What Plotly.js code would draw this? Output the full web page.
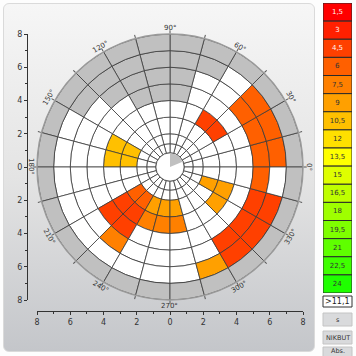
<!DOCTYPE html>
<html><head><meta charset="utf-8">
<script src="https://cdn.plot.ly/plotly-3.0.1.min.js"></script>
<style>
html,body{margin:0;padding:0;background:#fdfdfd;}
#wrap{position:relative;width:356px;height:356px;overflow:hidden;}
#panel{position:absolute;left:3px;top:3px;width:312px;height:349px;border-radius:6px;
 background:linear-gradient(#f6f6f6,#e4e4e4 50%,#c4c6ca);border:1px solid #dadada;box-sizing:border-box;}
#chart{position:absolute;left:0;top:0;width:356px;height:356px;}
</style></head>
<body><div id="wrap"><div id="panel"></div><div id="chart"></div></div>
<script>
// ---- data ----
const sectorCenters = [7.5,22.5,37.5,52.5,67.5,82.5,97.5,112.5,127.5,142.5,157.5,172.5,
                       187.5,202.5,217.5,232.5,247.5,262.5,277.5,292.5,307.5,322.5,337.5,352.5];
const ringEdges = [0.85,1.4,2,3,4,5,6,7,8];
// level per sector: 0 = empty (white), -1 = grey, n = legend class n
const ring0 = [0,0,0,0,0,0,0,0,0,0,0,0,0,0,0,0,0,0,0,0,0,0,0,0];
const ring1 = [0,0,0,0,0,0,0,0,0,0,0,0,0,0,0,0,0,0,0,0,0,0,0,0];
const ring2 = [0,0,0,0,0,0,0,0,0,0,7,7,0,0,4,4,6,6,6,0,0,0,6,0];
const ring3 = [0,0,3,3,0,0,0,0,0,0,7,7,0,0,3,3,5,5,5,0,0,6,6,0];
const ring4 = [0,0,0,0,0,-1,-1,-1,0,0,0,0,0,0,3,3,0,0,0,0,0,0,0,0];
const ring5 = [4,4,4,0,0,-1,-1,-1,-1,0,0,0,0,0,0,5,0,0,0,0,3,3,3,4];
const ring6 = [4,4,4,0,-1,-1,-1,-1,-1,-1,0,0,0,0,0,0,0,0,0,6,3,3,3,0];
const ring7 = [-1,-1,-1,-1,-1,-1,-1,-1,-1,-1,-1,-1,-1,-1,-1,-1,-1,-1,-1,-1,-1,-1,-1,-1];
const rings = [ring0,ring1,ring2,ring3,ring4,ring5,ring6,ring7];
const centerWedge = {from:22.5, to:90};
const angleLabels = ['0°','30°','60°','90°','120°','150°','180°','210°','240°','270°','300°','330°'];
const angleTicks = [0,30,60,90,120,150,180,210,240,270,300,330];
const legendLabels = ['1,5','3','4,5','6','7,5','9','10,5','12','13,5','15','16,5','18','19,5','21','22,5','24'];
const legendColors = ['#FF0000','#FF2000','#FF4000','#FF6000','#FF8000','#FFA000','#FFC000','#FFE000',
                      '#FFFF00','#DFFF00','#BFFF00','#9FFF00','#7FFF00','#5FFF00','#3FFF00','#1FFF00'];
const axisTicks = [-8,-6,-4,-2,0,2,4,6,8];
const axisTickText = ['8','6','4','2','0','2','4','6','8'];
const buttons = ['s','NIKBUT','Abs.'];
const thresholdText = '>11,1';

// ---- build ----
const W=356,H=356;
const px=x=>x/W, py=y=>1-y/H;
const GREY='#C0C0C0', LINE='#3c3c3c';
const cr=[],cb=[],ct=[],cc=[];
rings.forEach((ring,i)=>{
  ring.forEach((lv,k)=>{
    cr.push(ringEdges[i+1]-ringEdges[i]); cb.push(ringEdges[i]); ct.push(sectorCenters[k]);
    cc.push(lv===0?'#FFFFFF':(lv<0?GREY:legendColors[lv-1]));
  });
});
const traces=[
 {type:'barpolar',r:cr,base:cb,theta:ct,width:sectorCenters.map(()=>15),
  marker:{color:cc,line:{color:LINE,width:0.8}},hoverinfo:'skip',showlegend:false},
 {type:'barpolar',r:[ringEdges[0]],base:[0],theta:[180],width:[360],
  marker:{color:'#FFFFFF',line:{color:LINE,width:0.8}},hoverinfo:'skip',showlegend:false},
 {type:'barpolar',r:[ringEdges[0]*0.96],base:[0],theta:[(centerWedge.from+centerWedge.to)/2],
  width:[centerWedge.to-centerWedge.from],
  marker:{color:GREY,line:{width:0}},hoverinfo:'skip',showlegend:false},
 {type:'bar',x:legendLabels.map(()=>0),y:legendLabels.map(()=>1),base:legendLabels.map((_,i)=>i),
  width:1,xaxis:'x2',yaxis:'y2',text:legendLabels,textposition:'inside',insidetextanchor:'middle',
  textangle:0,constraintext:'none',
  textfont:{size:7,family:'DejaVu Sans',color:legendLabels.map((_,i)=>i<3?'#fff4f0':'#333')},
  marker:{color:legendColors,line:{color:'#2a2a2a',width:1}},hoverinfo:'skip',showlegend:false},
 {type:'scatter',x:[0],y:[0],mode:'markers',marker:{opacity:0},hoverinfo:'skip',showlegend:false}
];
const pd={x:[37,303],y:[34,300]};
const cxp=px((pd.x[0]+pd.x[1])/2), cyp=py((pd.y[0]+pd.y[1])/2);
const Rpx=(pd.x[1]-pd.x[0])/2, Lr=Rpx+6;
const ann=angleTicks.map((a,i)=>{
  const t=a*Math.PI/180;
  let ta=90-a; while(ta>90) ta-=180; while(ta<=-90) ta+=180;
  return {xref:'paper',yref:'paper',x:cxp+Lr*Math.cos(t)/W,y:cyp+Lr*Math.sin(t)/H,
    text:angleLabels[i],showarrow:false,textangle:ta,xanchor:'center',yanchor:'middle',
    font:{size:7,color:'#333',family:'DejaVu Sans'}};
});
const shapes=[];
shapes.push({type:'rect',xref:'paper',yref:'paper',x0:px(323),x1:px(352),y0:py(307),y1:py(296),
  fillcolor:'#ffffff',line:{color:'#333',width:1}});
ann.push({xref:'paper',yref:'paper',x:px(337.5),y:py(301.8),text:thresholdText,showarrow:false,
  xanchor:'center',yanchor:'middle',font:{size:8,color:'#222',family:'DejaVu Sans'}});
const btnY=[[313,326],[331,344],[347,360]];
buttons.forEach((b,i)=>{
  shapes.push({type:'rect',xref:'paper',yref:'paper',x0:px(323),x1:px(352),y0:py(btnY[i][1]),y1:py(btnY[i][0]),
    fillcolor:'#d9dadc',line:{color:'#c4c4c4',width:1}});
  const yc = i==2 ? 350.5 : (btnY[i][0]+btnY[i][1])/2;
  ann.push({xref:'paper',yref:'paper',x:px(337.5),y:py(yc),xanchor:'center',yanchor:'middle',
    text:b,showarrow:false,font:{size:6.5,color:'#333',family:'DejaVu Sans'}});
});
const axFont={size:8,color:'#333',family:'DejaVu Sans'};
const layout={
  width:W,height:H,margin:{l:0,r:0,t:0,b:0},paper_bgcolor:'rgba(0,0,0,0)',plot_bgcolor:'rgba(0,0,0,0)',
  showlegend:false,barmode:'overlay',
  polar:{domain:{x:[px(pd.x[0]),px(pd.x[1])],y:[py(pd.y[1]),py(pd.y[0])]},bgcolor:'rgba(0,0,0,0)',
    bargap:0,
    radialaxis:{visible:false,range:[0,8]},
    angularaxis:{rotation:0,direction:'counterclockwise',showgrid:false,showticklabels:false,
      ticks:'outside',ticklen:3,tickcolor:'#555',dtick:15,tickmode:'linear',tick0:0,
      showline:true,linecolor:'#9a9a9a',linewidth:1.5}},
  xaxis:{domain:[px(pd.x[0]),px(pd.x[1])],range:[-8,8],anchor:'free',position:1-311/H,
    tickvals:axisTicks,ticktext:axisTickText,ticks:'outside',ticklen:3,tickcolor:'#333',
    showline:true,linecolor:'#333',linewidth:1,showgrid:false,zeroline:false,tickfont:axFont,
    minor:{dtick:1,ticks:'outside',ticklen:2,tickcolor:'#333',showgrid:false},fixedrange:true},
  yaxis:{domain:[py(pd.y[1]),py(pd.y[0])],range:[-8,8],anchor:'free',position:px(27),
    tickvals:axisTicks,ticktext:axisTickText,ticks:'outside',ticklen:3,tickcolor:'#333',
    showline:true,linecolor:'#333',linewidth:1,showgrid:false,zeroline:false,tickfont:axFont,
    minor:{dtick:1,ticks:'outside',ticklen:2,tickcolor:'#333',showgrid:false},fixedrange:true},
  xaxis2:{domain:[px(323),px(352)],range:[-0.5,0.5],visible:false,anchor:'y2'},
  yaxis2:{domain:[py(293),py(3)],range:[16,0],visible:false,anchor:'x2'},
  annotations:ann,shapes:shapes
};
Plotly.newPlot('chart',traces,layout,{staticPlot:true,displayModeBar:false});
</script></body></html>
